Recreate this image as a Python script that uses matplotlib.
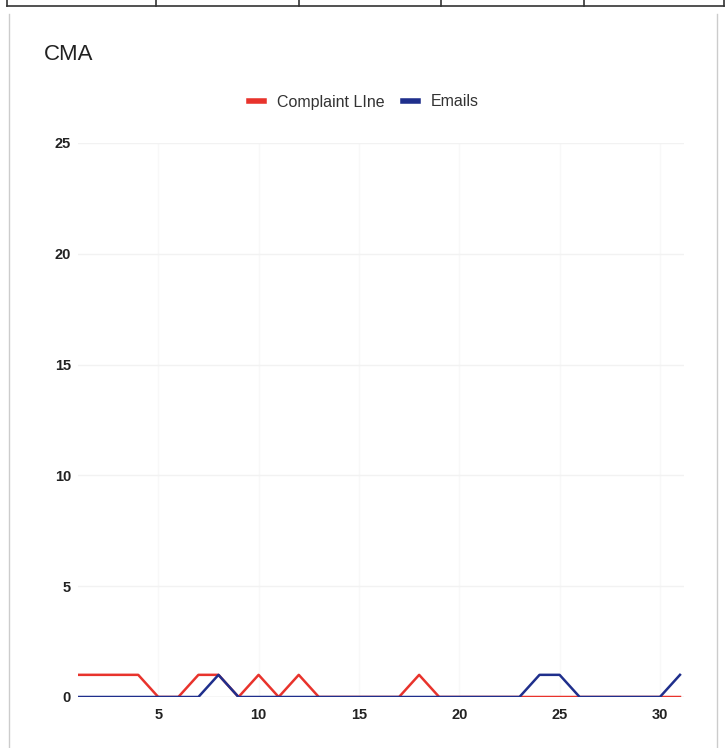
import matplotlib
matplotlib.use("Agg")
import matplotlib.pyplot as plt
from matplotlib.lines import Line2D

plt.rcParams['font.family'] = ['Liberation Sans', 'DejaVu Sans']

days = list(range(1, 32))
complaint_line = [1, 1, 1, 1, 0, 0, 1, 1, 0, 1, 0, 1, 0, 0, 0, 0, 0, 1, 0, 0,
                  0, 0, 0, 0, 0, 0, 0, 0, 0, 0, 0]
emails = [0, 0, 0, 0, 0, 0, 0, 1, 0, 0, 0, 0, 0, 0, 0, 0, 0, 0, 0, 0,
          0, 0, 0, 1, 1, 0, 0, 0, 0, 0, 1]
x_ticks = [5, 10, 15, 20, 25, 30]
y_ticks = [0, 5, 10, 15, 20, 25]

RED = '#e8332c'
BLUE = '#1f2f8c'

fig = plt.figure(figsize=(7.28, 7.48), dpi=100)
fig.patch.set_facecolor('white')

W, H = 728, 748
def fx(px):
    return px / W
def fy(py):
    return 1 - py / H

# Surrounding table frame
fig.add_artist(Line2D([fx(7), fx(724)], [fy(6), fy(6)], color='#333333', lw=1.2))
for xp in [7, 156, 299, 441, 584, 724]:
    fig.add_artist(Line2D([fx(xp), fx(xp)], [fy(0), fy(6)], color='#333333', lw=1.2))
fig.add_artist(Line2D([fx(9), fx(9)], [fy(14), fy(748)], color='#cccccc', lw=1.0))
fig.add_artist(Line2D([fx(717), fx(717)], [fy(14), fy(748)], color='#cccccc', lw=1.0))

ax = fig.add_axes([fx(78), fy(697), (684 - 78) / W, (697 - 143) / H])
ax.plot(days, complaint_line, color=RED, lw=1.8, label='Complaint LIne', zorder=3)
ax.plot(days, emails, color=BLUE, lw=1.8, label='Emails', zorder=4)

ax.set_xlim(1, 31.2)
ax.set_ylim(0, 25)
ax.set_xticks(x_ticks)
ax.set_yticks(y_ticks)
ax.tick_params(length=0, labelsize=10.5, labelcolor='#222222')
ax.tick_params(axis='y', pad=5)
ax.tick_params(axis='x', pad=8)
for lab in ax.get_xticklabels() + ax.get_yticklabels():
    lab.set_fontweight('bold')
ax.grid(True, axis='y', color='#f2f2f2', lw=1.0)
ax.grid(True, axis='x', color='#f8f8f8', lw=1.0)
ax.set_axisbelow(True)
for s in ax.spines.values():
    s.set_visible(False)
ax.axhline(0, color='#999999', lw=0.8, zorder=2)

fig.text(fx(44), fy(55), 'CMA', fontsize=16, color='#222222', va='center', ha='left')

handles = [Line2D([0], [0], color=RED, lw=4), Line2D([0], [0], color=BLUE, lw=4)]
fig.legend(handles, ['Complaint LIne', 'Emails'], loc='center',
           bbox_to_anchor=(fx(364), fy(102)), ncol=2, frameon=False,
           fontsize=11.5, handlelength=0.9, handletextpad=0.8, columnspacing=1.2,
           labelcolor='#333333')

fig.savefig('out.png', dpi=100, facecolor='white')
